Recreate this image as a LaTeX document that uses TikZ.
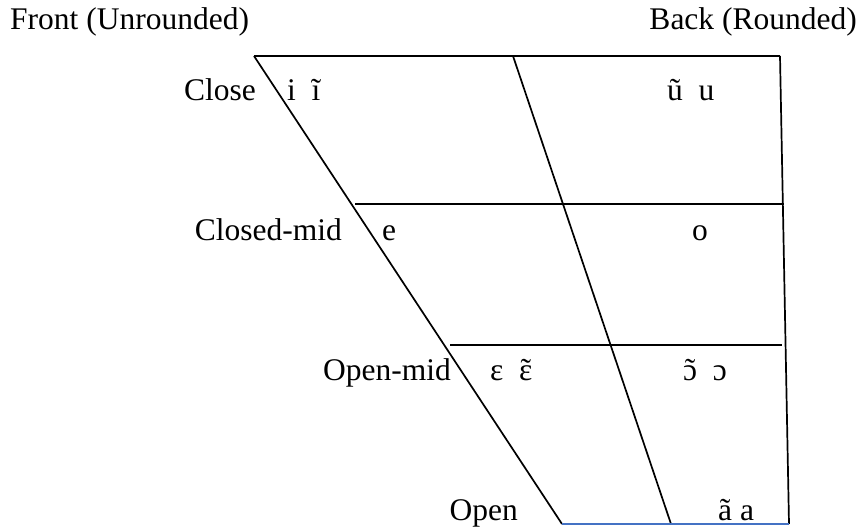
\documentclass[tikz,border=0pt]{standalone}
\usepackage{fontspec}
\setmainfont{Liberation Serif}
\definecolor{openblue}{HTML}{4472C4}
\newcommand{\tildeover}[1]{\ooalign{#1\cr\hidewidth\char"02DC\hidewidth\cr}}
\begin{document}
\begin{tikzpicture}[x=1pt,y=-1pt,
  lbl/.style={anchor=base west,inner sep=0pt,font=\fontsize{31.5}{36}\selectfont},
  lbr/.style={anchor=base east,inner sep=0pt,font=\fontsize{31.5}{36}\selectfont},
  edge/.style={line width=1.7pt,black},
  openedge/.style={line width=1.7pt,openblue}]
\useasboundingbox (0,0) rectangle (861,527);
% corners
\coordinate (tl) at (254,56);
\coordinate (tm) at (513,56);
\coordinate (tr) at (780,56);
\coordinate (bl) at (562,524);
\coordinate (bm) at (671,524);
\coordinate (br) at (789,524);
\coordinate (cml) at (355,204);
\coordinate (cmr) at (784,204);
\coordinate (oml) at (450,345);
\coordinate (omr) at (782,345);
% lines
\draw[edge] (tl) -- (tr);
\draw[edge] (tr) -- (br);
\draw[edge] (tl) -- (bl);
\draw[edge] (tm) -- (bm);
\draw[edge] (cml) -- (cmr);
\draw[edge] (oml) -- (omr);
\draw[openedge] (bl) -- (br);
% headings
\node[lbl] (front) at (10,30) {Front (Unrounded)};
\node[lbr] (back) at (857,30) {Back (Rounded)};
% row labels
\node[lbr] (close) at (256,100) {Close};
\node[lbr] (closedmid) at (342,240) {Closed-mid};
\node[lbr] (openmid) at (451,380) {Open-mid};
\node[lbr] (open) at (518,520) {Open};
% vowels
\node[lbl] (ifront) at (287,100) {i\ \ ĩ};
\node[lbl] (uback) at (667,100) {ũ\ \ u};
\node[lbl] (efront) at (382,240) {e};
\node[lbl] (oback) at (692,240) {o};
\node[lbl] (epsfront) at (490,380) {ε\ \ \tildeover{ε}};
\node[lbl] (openoback) at (683,380) {\tildeover{ɔ}\ \ ɔ};
\node[lbl] (aback) at (718,520) {ã a};
\end{tikzpicture}
\end{document}
